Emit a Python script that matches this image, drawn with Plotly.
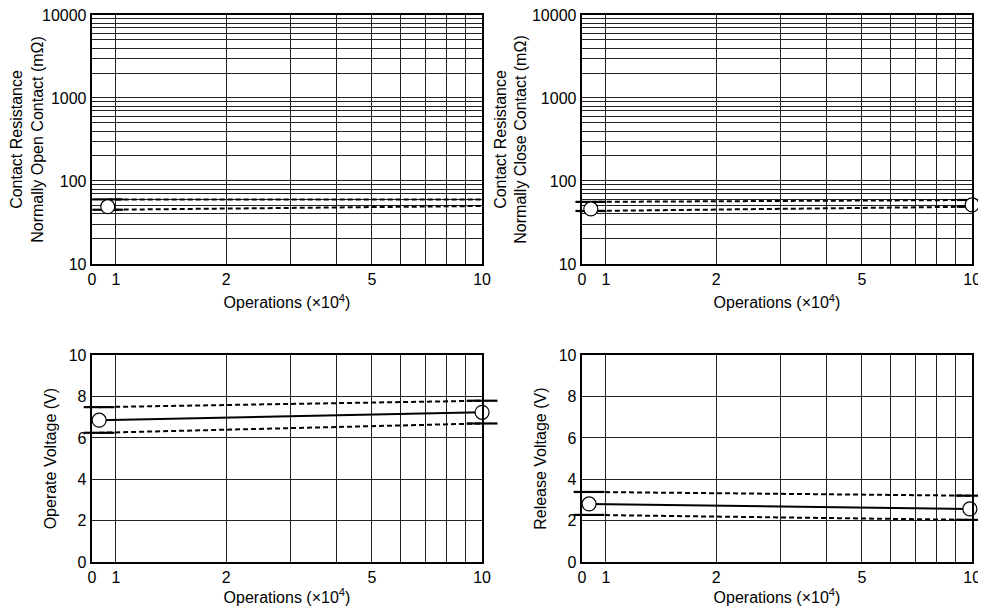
import math
import plotly.graph_objects as go
from plotly.subplots import make_subplots

# operations axis (x10^4), left edge stands for "0"
OPS_ZERO = 0.86
OPS_GRID = [OPS_ZERO, 1, 2, 3, 4, 5, 6, 7, 8, 9, 10]
OPS_LABELS = ["0", "1", "2", "", "", "5", "", "", "", "", "10"]

RES_GRID = [m * 10 ** e for e in range(1, 4) for m in range(1, 10)] + [10000]
RES_LABELS = [str(v) if v in (10, 100, 1000, 10000) else "" for v in RES_GRID]

# contact resistance, normally open (mOhm)
no_ops = [0.95, 10.1]
no_mean = [49, 55]
no_max = [60, 60]
no_min = [45, 50]

# contact resistance, normally close (mOhm)
nc_ops = [0.91, 10.0]
nc_mean = [46, 51.5]
nc_max = [56, 59]
nc_min = [43.5, 49]

# operate voltage (V)
op_ops = [0.90, 10.0]
op_mean = [6.86, 7.24]
op_max = [7.49, 7.8]
op_min = [6.25, 6.7]

# release voltage (V)
rel_ops = [0.90, 9.86]
rel_mean = [2.81, 2.57]
rel_max = [3.39, 3.21]
rel_min = [2.28, 2.04]

FONT = "Liberation Sans, Arial, sans-serif"
FS = 16

fig = make_subplots(rows=2, cols=2)


def add_panel(ops, mean, vmax, vmin, row, col, mean_line):
    for vals in (vmax, vmin):
        fig.add_trace(go.Scatter(
            x=ops, y=vals, mode="lines",
            line=dict(color="black", width=2, dash="5px,3px"),
            showlegend=False, hoverinfo="skip"), row=row, col=col)
    if mean_line:
        fig.add_trace(go.Scatter(
            x=ops, y=mean, mode="lines",
            line=dict(color="black", width=2),
            showlegend=False, hoverinfo="skip"), row=row, col=col)
    # range brackets at both ends
    fig.add_trace(go.Scatter(
        x=ops + ops, y=vmax + vmin, mode="markers",
        marker=dict(symbol="line-ew", size=22,
                    line=dict(color="black", width=2.2)),
        cliponaxis=False, showlegend=False, hoverinfo="skip"),
        row=row, col=col)
    fig.add_trace(go.Scatter(
        x=ops, y=mean, mode="markers",
        marker=dict(symbol="circle", size=14, color="white",
                    line=dict(color="black", width=1.2)),
        cliponaxis=False, showlegend=False), row=row, col=col)


add_panel(no_ops, no_mean, no_max, no_min, 1, 1, False)
add_panel(nc_ops, nc_mean, nc_max, nc_min, 1, 2, False)
add_panel(op_ops, op_mean, op_max, op_min, 2, 1, True)
add_panel(rel_ops, rel_mean, rel_max, rel_min, 2, 2, True)

axis_common = dict(
    showline=True, linecolor="black", linewidth=2, mirror=True,
    showgrid=True, gridcolor="#222222", gridwidth=1,
    zeroline=False, ticks="", automargin=False,
    ticklabeloverflow="allow",
    tickfont=dict(size=FS, color="black"),
)

x_doms = [[0.0849, 0.4810], [0.5818, 0.9780]]
y_doms = {1: [0.5817, 0.9886], 2: [0.0943, 0.4330]}
x_title_standoff = {1: 10, 2: 6}

for row in (1, 2):
    for col in (1, 2):
        fig.update_xaxes(
            type="log",
            range=[math.log10(OPS_ZERO) - 0.0005, 1.0005],
            tickmode="array", tickvals=OPS_GRID, ticktext=OPS_LABELS,
            domain=x_doms[col - 1],
            title=dict(text="Operations (\u00d710<sup>4</sup>)",
                       font=dict(size=FS, color="black"),
                       standoff=x_title_standoff[row]),
            row=row, col=col, **axis_common)

for col, kind in ((1, "Open"), (2, "Close")):
    fig.update_yaxes(
        type="log", range=[0.9995, 4.0005], tickmode="array",
        tickvals=RES_GRID, ticktext=RES_LABELS,
        domain=y_doms[1], row=1, col=col,
        title=dict(text="Contact Resistance<br>Normally %s Contact (m\u03a9)" % kind,
                   font=dict(size=FS, color="black"), standoff=1),
        **axis_common)

fig.update_yaxes(range=[-0.01, 10.01], tickvals=[0, 2, 4, 6, 8, 10],
                 domain=y_doms[2], row=2, col=1,
                 title=dict(text="Operate Voltage (V)",
                            font=dict(size=FS, color="black"), standoff=8),
                 **axis_common)
fig.update_yaxes(range=[-0.01, 10.01], tickvals=[0, 2, 4, 6, 8, 10],
                 domain=y_doms[2], row=2, col=2,
                 title=dict(text="Release Voltage (V)",
                            font=dict(size=FS, color="black"), standoff=8),
                 **axis_common)

fig.update_layout(
    width=986, height=612,
    margin=dict(l=0, r=0, t=0, b=0),
    paper_bgcolor="white", plot_bgcolor="white",
    font=dict(family=FONT, size=FS, color="black"),
    showlegend=False,
)

fig.write_html("out.html")
